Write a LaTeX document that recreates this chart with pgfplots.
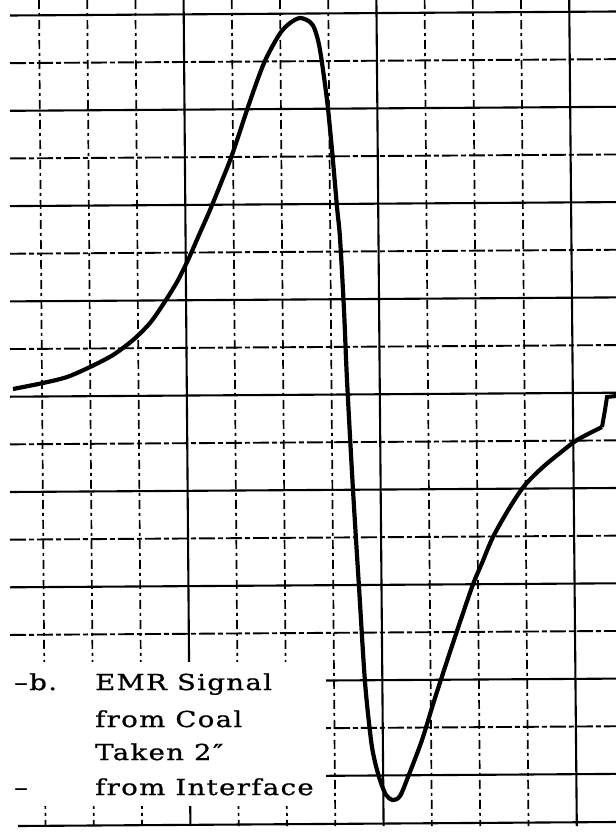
\documentclass[border=0pt]{standalone}
\usepackage{graphicx}
\usepackage{pgfplots}
\pgfplotsset{compat=1.18}
\usepackage{fontspec}
\setmainfont{DejaVu Serif}
\newfontfamily\capfont[LetterSpace=5, FakeBold=0.8]{DejaVu Serif}
\newcommand{\captxt}[1]{\scalebox{1.25}[1]{\capfont\fontsize{22}{24}\selectfont #1}}
\tikzset{
  solidgrid/.style={black, line width=2.1pt},
  brokengrid/.style={black, line width=1.9pt, dash pattern=on 16pt off 3pt on 5pt off 3pt},
  vbroken/.style={black, line width=1.7pt, dash pattern=on 9pt off 4pt on 3pt off 4pt},
  captext/.style={anchor=base west, inner sep=0pt},
}
\begin{document}
\begin{tikzpicture}
\begin{axis}[
  scale only axis, width=616pt, height=833pt,
  xmin=0, xmax=616, ymin=0, ymax=833, y dir=reverse,
  axis lines=none, clip=true,
]
\fill[white] (axis cs:0,0) rectangle (axis cs:616,833);
% vertical grid lines (slightly slanted scan)
\pgfplotsinvokeforeach{0,1,2,4,5,6,8,9,10}{
  \draw[vbroken] (axis cs:{39+48.2*#1},0) -- (axis cs:{45.5+48.3*#1},826);
}
\pgfplotsinvokeforeach{3,7,11}{
  \draw[solidgrid] (axis cs:{39+48.2*#1},0) -- (axis cs:{45.5+48.3*#1},826);
}
% horizontal grid lines
\pgfplotsinvokeforeach{0,2,4,6,8,10,12,14,16}{
  \draw[solidgrid] (axis cs:10,{15.5+47.65*#1}) -- (axis cs:616,{11.5+47.65*#1});
}
\pgfplotsinvokeforeach{1,3,5,7,9,11,13,15}{
  \draw[brokengrid] (axis cs:10,{15.5+47.65*#1}) -- (axis cs:616,{11.5+47.65*#1});
}
\draw[solidgrid] (axis cs:18,826) -- (axis cs:616,822);
% blank area behind the caption
\fill[white] (axis cs:0,662) rectangle (axis cs:326,806);
% signal
\addplot[black, line width=4.2pt, smooth, tension=0.5] coordinates {
 (13,389) (43,383) (67,377) (90,367) (113,355) (133,340) (150,323) (164,303)
 (177,282) (188,260) (199,235) (210,210) (221,183) (232,155) (247,110) (256,84)
 (264,63) (272,47) (281,32) (290,23) (300,18) (310,22) (315,30) (320,50) (327,100) (332,150)
 (337,207) (340,238) (344,310) (347,380) (353,490) (359,587) (365,682)
 (371,740) (375,762) (380,780) (386,795) (393,800) (400,796) (408,777) (422,740)
 (435,698) (453,643) (472,587) (482,563) (493,537) (510,507) (525,485) (543,467)
 (560,453) (577,440) (602,427)
};
\addplot[black, line width=4pt] coordinates {(602,427) (605,410) (607,397) (616,396)};
% caption
\node[captext] at (axis cs:14,690) {\captxt{–b.}};
\node[captext] at (axis cs:95,690) {\captxt{EMR Signal}};
\node[captext] at (axis cs:95,727) {\captxt{from Coal}};
\node[captext] at (axis cs:95,760) {\captxt{Taken 2″}};
\node[captext] at (axis cs:14,795) {\captxt{–}};
\node[captext] at (axis cs:95,795) {\captxt{from Interface}};
\end{axis}
\end{tikzpicture}
\end{document}
